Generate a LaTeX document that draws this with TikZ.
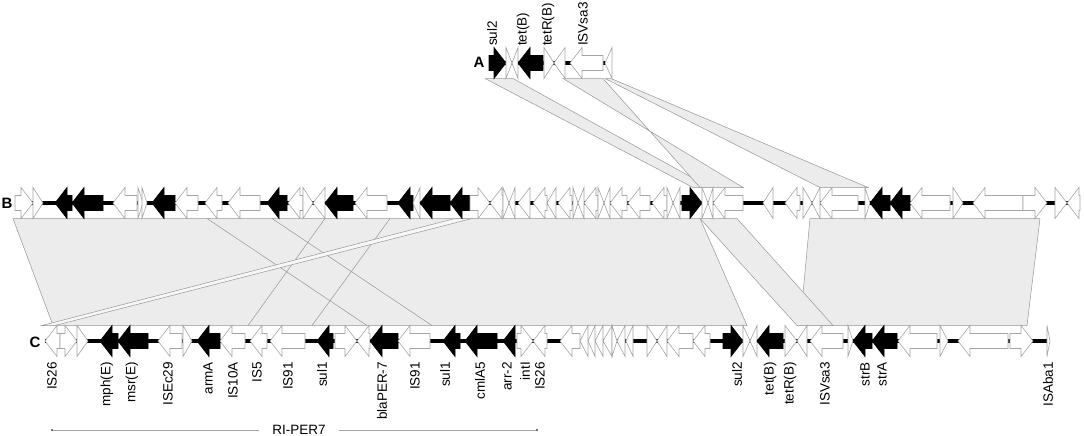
\documentclass[tikz,border=0pt]{standalone}
\usepackage{fontspec}
\setmainfont{Liberation Sans}
\usepackage{tikz}
\usepackage{xcolor}

\definecolor{geneline}{RGB}{165,165,165}
\definecolor{bandfill}{RGB}{236,236,236}
\definecolor{bandline}{RGB}{150,150,150}
\colorlet{genew}{white}
\colorlet{genek}{black}
\colorlet{linew}{geneline}
\colorlet{linek}{black}

% gene arrow: #1 w/k, #2 track y, #3 tail x, #4 tip x
\newcommand{\gene}[4]{%
  \pgfmathsetmacro\hx{#4-sign(#4-#3)*min(12,abs(#4-#3))}
  \draw[gene,fill=gene#1,draw=line#1] (#3,#2-7.5) -- (\hx,#2-7.5) -- (\hx,#2-15.5)
    -- (#4,#2) -- (\hx,#2+15.5) -- (\hx,#2+7.5) -- (#3,#2+7.5) -- cycle;}

\begin{document}
\begin{tikzpicture}[x=1pt,y=-1pt,
  gene/.style={line width=0.6pt,line join=miter},
  backbone/.style={line width=3.5pt},
  band/.style={fill=bandfill,draw=bandline,line width=0.5pt},
  lbl/.style={font=\fontsize{13.5}{15}\selectfont,rotate=90,inner sep=0pt},
  track/.style={font=\fontsize{15}{17}\selectfont\bfseries,inner sep=0pt}]

  \useasboundingbox (0,0) rectangle (1084,436);

  % comparison bands A-B
  \draw[band] (485,78.5) -- (513,78.5) -- (710,187.5) -- (693,187.5) -- cycle;
  \draw[band] (563,78.5) -- (603,78.5) -- (700,187.5) -- (743,187.5) -- cycle;
  \draw[band] (605,78.5) -- (611,78.5) -- (868,187.5) -- (820,187.5) -- cycle;

  % comparison bands B-C
  \draw[band] (13,218.5) -- (700,218.5) -- (747,325.5) -- (53,325.5) -- cycle;
  \draw[band] (810,218.5) -- (1040,218.5) -- (1027,325.5) -- (800,325.5) -- cycle;
  \draw[band] (700,218.5) -- (737,218.5) -- (833,325.5) -- (797,325.5) -- cycle;
  \foreach \a/\b in {207/367, 272/432, 325/248, 390/312}
    \draw[bandline,line width=0.5pt] (\a,218.5) -- (\b,325.5);
  \draw[band,fill=white!60!bandfill] (455,218.5) -- (472,218.5) -- (55,325.5) -- (42,325.5) -- cycle;

  % backbones
  \draw[backbone] (489,63) -- (612,63);
  \draw[backbone] (15,203) -- (1080,203);
  \draw[backbone] (45,341) -- (1050,341);

  % track A
  \foreach \s/\e/\t in {489/506/k, 506/512/w, 518/512/w, 543/518/k, 544/554/w,
      565/554/w, 603/570/w, 612/605/w}
    {\gene{\t}{63}{\s}{\e}}

  % track B
  \foreach \s/\e/\t in {15/33/w, 33/43/w, 72/55/k, 103/72/k, 137/113/w, 138/143/w,
      142/147/w, 175/152/k, 198/175/w, 222/205/w, 260/228/w, 287/267/k, 303/288/w,
      303/313/w, 325/313/w, 353/325/k, 387/355/w, 413/398/k, 420/413/w, 450/420/k,
      470/450/k, 470/490/w, 503/490/w, 503/509/w, 515/509/w, 530/518/w, 547/533/w,
      556/547/w, 572/558/w, 573/578/w, 584/578/w, 598/584/w, 598/604/w, 610/604/w,
      627/610/w, 650/628/w, 667/652/w, 667/673/w, 680/673/w, 682/702/k, 702/708/w,
      713/708/w, 743/713/w, 773/763/w, 800/785/w, 803/812/w, 820/812/w, 858/820/w,
      865/870/w, 890/870/k, 910/890/k, 950/910/w, 953/963/w, 1023/973/w,
      1023/1047/w, 1055/1067/w, 1080/1067/w}
    {\gene{\t}{203}{\s}{\e}}

  % track C
  \foreach \s/\e/\t in {60/45/w, 60/77/w, 77/88/w, 118/100/k, 148/118/k, 182/158/w,
      183/192/w, 220/197/k, 245/220/w, 267/250/w, 305/270/w, 333/317/k, 335/357/w,
      370/357/w, 398/370/k, 430/398/w, 460/443/k, 497/465/k, 515/503/k, 517/533/w,
      547/533/w, 580/560/w, 588/580/w, 595/588/w, 603/595/w, 612/603/w, 612/617/w,
      625/617/w, 633/626/w, 647/657/w, 667/657/w, 693/667/w, 710/693/w, 723/743/k,
      743/750/w, 757/750/w, 783/757/k, 785/797/w, 807/797/w, 843/810/w, 848/853/w,
      872/853/k, 897/872/k, 937/898/w, 940/948/w, 1008/958/w, 1010/1033/w,
      1047/1050/w}
    {\gene{\t}{341}{\s}{\e}}

  % track names
  \node[track] (A) at (479,62) {A};
  \node[track] (B) at (7,203) {B};
  \node[track] (C) at (35,342) {C};

  % gene names
  \foreach \x/\n [count=\i] in {492/sul2, 523/tet(B), 548/tetR(B), 583/ISVsa3}
    \node[lbl,anchor=west] (la\i) at (\x,46) {\n};
  \foreach \x/\n [count=\i] in {52/IS26, 107/mph(E), 132/msr(E), 168/ISEc29,
      208/armA, 233/IS10A, 257/IS5, 288/IS91, 322/sul1, 382/blaPER-7, 415/IS91,
      445/sul1, 480/cmlA5, 507/arr-2, 525/intI, 540/IS26, 737/sul2, 770/tet(B),
      790/tetR(B), 825/ISVsa3, 865/strB, 882/strA, 1048/ISAba1}
    \node[lbl,anchor=east] (lc\i) at (\x,362) {\n};

  % RI-PER7 span
  \node[font=\fontsize{13.5}{15}\selectfont,inner xsep=13pt,inner ysep=0pt] (riper) at (299,430) {RI-PER7};
  \coordinate (rl) at (52,430);
  \coordinate (rr) at (537,430);
  \draw[geneline,line width=0.6pt] (rl) -- (riper.west);
  \draw[geneline,line width=0.6pt] (riper.east) -- (rr);
  \fill[black!70] (rl) circle (1.1) (rr) circle (1.1);
\end{tikzpicture}
\end{document}
